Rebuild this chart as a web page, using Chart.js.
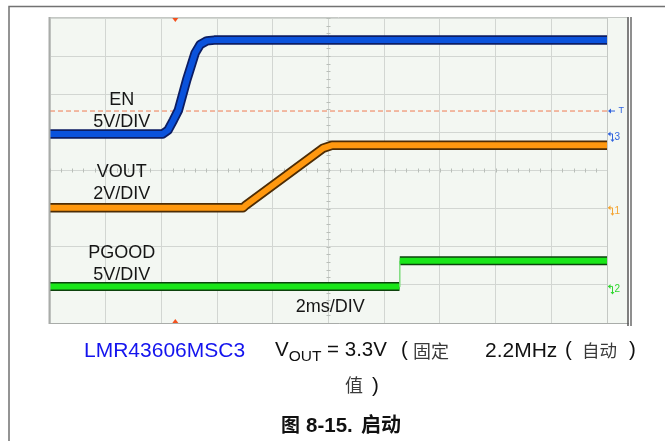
<!DOCTYPE html>
<html>
<head>
<meta charset="utf-8">
<script src="https://cdn.jsdelivr.net/npm/chart.js@4.4.1/dist/chart.umd.min.js"></script>
<style>
  html, body { margin: 0; padding: 0; background: #fff; }
  #wrap { position: relative; width: 665px; height: 441px; overflow: hidden; }
  #scope { position: absolute; left: 0; top: 0; }
  .t { position: absolute; white-space: nowrap; line-height: 1; font-family: "Liberation Sans", Arial, sans-serif; color: #111; }
  .cjk { font-family: "Noto Sans CJK SC", sans-serif; color: #3a3a3a; }
  .b { font-weight: bold; color: #111; }
</style>
</head>
<body>
<div id="wrap">
  <canvas id="scope" width="665" height="441"></canvas>

  <span class="t" style="left:84px;top:339px;font-size:21px;color:#1414ee;">LMR43606MSC3</span>
  <span class="t" style="left:275px;top:339px;font-size:20.5px;">V<span style="font-size:15.5px;position:relative;top:5px;">OUT</span> = 3.3V</span>
  <span class="t" style="left:401px;top:339px;font-size:20.5px;">(</span>
  <span class="t cjk" style="left:413px;top:341px;font-size:18px;">固定</span>
  <span class="t" style="left:485px;top:339px;font-size:21px;">2.2MHz</span>
  <span class="t" style="left:565px;top:339px;font-size:20.5px;">(</span>
  <span class="t cjk" style="left:582px;top:341px;font-size:17.5px;">自动</span>
  <span class="t" style="left:629px;top:339px;font-size:20.5px;">)</span>

  <span class="t cjk" style="left:345px;top:375px;font-size:18px;">值</span>
  <span class="t" style="left:372px;top:375px;font-size:20.5px;">)</span>

  <span class="t cjk b" style="left:281px;top:414px;font-size:19px;">图</span>
  <span class="t b" style="left:306px;top:415px;font-size:20.5px;">8-15.</span>
  <span class="t cjk b" style="left:361px;top:414px;font-size:20px;">启动</span>
</div>

<script>
// Horizontal: 2 ms/div over 10 divisions. Vertical: 8 divisions.
const timeMin = 0;
const timeMax = 20;
const msPerDiv = 2;
const divisions = 8;

// EN (channel 3, 5 V/div)
const enTime  = [0, 4.05, 4.24, 4.43, 4.61, 4.91, 5.21, 5.39, 5.63, 5.90, 20];
const enVolts = [0, 0,    0.5,  1.8,  3.1,  7.1,  10.6, 11.7, 12.2, 12.3, 12.3];

// VOUT (channel 1, 2 V/div)
const voutTime  = [0, 6.93, 7.05, 9.81, 10.12, 20];
const voutVolts = [0, 0,    0.16, 3.13, 3.28,  3.28];

// PGOOD (channel 2, 5 V/div)
const pgoodTime  = [0, 12.55, 12.56, 20];
const pgoodVolts = [0, 0,     3.35,  3.35];

// Trigger: EN rising edge
const trigLevelVolts = 3.0;
const trigTime = 4.5;

// Channel settings: volts per division and ground offset (divisions from bottom)
const chEN    = { num: '3', vPerDiv: 5, offset: 4.96, color: '#0a52dc', edge: '#0c1d63', mark: '#2f63de' };
const chVOUT  = { num: '1', vPerDiv: 2, offset: 3.02, color: '#ff980f', edge: '#4d2c05', mark: '#f4a431' };
const chPGOOD = { num: '2', vPerDiv: 5, offset: 0.96, color: '#19e619', edge: '#0c420c', mark: '#2fd62f' };

function toPoints(times, volts, ch) {
  return times.map((t, i) => ({ x: t, y: ch.offset + volts[i] / ch.vPerDiv }));
}

const enPts = toPoints(enTime, enVolts, chEN);
const voutPts = toPoints(voutTime, voutVolts, chVOUT);
const pgoodPts = toPoints(pgoodTime, pgoodVolts, chPGOOD);
const trigDiv = chEN.offset + trigLevelVolts / chEN.vPerDiv;

const traceBase = { pointRadius: 0, tension: 0, fill: false, borderJoinStyle: 'round' };
// The PGOOD edge is a fast transition drawn as a thin stroke
const isEdge = (ctx) => ctx.p0DataIndex === 1;

const datasets = [
  { data: [{ x: timeMin, y: trigDiv }, { x: timeMax, y: trigDiv }], borderColor: '#ef7a52',
    borderWidth: 1, borderDash: [5, 3], order: 9, ...traceBase },
  { data: pgoodPts, borderColor: chPGOOD.edge, borderWidth: 9, order: 8, ...traceBase,
    segment: { borderWidth: ctx => isEdge(ctx) ? 0.5 : 9, borderColor: ctx => isEdge(ctx) ? 'rgba(0,0,0,0)' : chPGOOD.edge } },
  { data: pgoodPts, borderColor: chPGOOD.color, borderWidth: 6, order: 7, ...traceBase,
    segment: { borderWidth: ctx => isEdge(ctx) ? 1.5 : 6, borderColor: ctx => isEdge(ctx) ? '#7fdc7f' : chPGOOD.color } },
  { data: voutPts, borderColor: chVOUT.edge, borderWidth: 9.5, order: 6, ...traceBase },
  { data: voutPts, borderColor: chVOUT.color, borderWidth: 6, order: 5, ...traceBase },
  { data: enPts, borderColor: chEN.edge, borderWidth: 9.5, order: 4, ...traceBase },
  { data: enPts, borderColor: chEN.color, borderWidth: 6, order: 3, ...traceBase }
];

const FONT = '"Liberation Sans", Arial, sans-serif';
const BG = '#f3f7f2';

const scopeDecor = {
  id: 'scopeDecor',
  beforeDraw(chart) {
    const c = chart.ctx, a = chart.chartArea;
    c.save();
    c.fillStyle = '#fff';
    c.fillRect(0, 0, chart.width, chart.height);
    // page box
    c.strokeStyle = '#727272';
    c.lineWidth = 1.5;
    c.beginPath();
    c.moveTo(9, chart.height + 2);
    c.lineTo(9, 6.5);
    c.lineTo(chart.width + 2, 6.5);
    c.stroke();
    // screen background incl. side marker panel
    c.fillStyle = BG;
    c.fillRect(a.left, a.top, 627 - a.left, a.bottom - a.top);
    c.restore();
  },
  beforeDatasetsDraw(chart) {
    const c = chart.ctx, x = chart.scales.x, y = chart.scales.y;
    c.save();
    c.strokeStyle = '#b9beb9';
    c.lineWidth = 1;
    const yc = y.getPixelForValue(divisions / 2);
    for (let t = timeMin; t <= timeMax + 1e-9; t += msPerDiv / 5) {
      const px = Math.round(x.getPixelForValue(t)) + 0.5;
      c.beginPath(); c.moveTo(px, yc - 2); c.lineTo(px, yc + 2); c.stroke();
    }
    const xc = x.getPixelForValue((timeMin + timeMax) / 2);
    for (let d = 0; d <= divisions + 1e-9; d += 0.2) {
      const py = Math.round(y.getPixelForValue(d)) + 0.5;
      c.beginPath(); c.moveTo(xc - 2, py); c.lineTo(xc + 2, py); c.stroke();
    }
    c.restore();
  },
  afterDatasetsDraw(chart) {
    const c = chart.ctx, a = chart.chartArea, x = chart.scales.x, y = chart.scales.y;
    c.save();
    // screen frame
    c.lineWidth = 1;
    c.strokeStyle = '#c4c8c4';
    c.beginPath(); c.moveTo(a.left, a.top - 0.5); c.lineTo(627, a.top - 0.5); c.stroke();
    c.beginPath(); c.moveTo(a.right + 0.5, a.top); c.lineTo(a.right + 0.5, a.bottom); c.stroke();
    c.strokeStyle = '#a9aca9';
    c.beginPath(); c.moveTo(a.left, a.bottom + 0.5); c.lineTo(629, a.bottom + 0.5); c.stroke();
    c.lineWidth = 2;
    c.beginPath(); c.moveTo(a.left - 0.5, a.top - 1); c.lineTo(a.left - 0.5, a.bottom + 1); c.stroke();
    c.lineWidth = 1.5;
    c.strokeStyle = '#555';
    c.beginPath(); c.moveTo(628, a.top - 1); c.lineTo(628, a.bottom + 3); c.stroke();
    c.strokeStyle = '#6a6a6a';
    c.beginPath(); c.moveTo(631, a.top - 1); c.lineTo(631, a.bottom + 3); c.stroke();

    // trigger position markers
    const tx = x.getPixelForValue(trigTime);
    c.fillStyle = '#f4511e';
    c.beginPath(); c.moveTo(tx - 3, a.top); c.lineTo(tx + 3, a.top); c.lineTo(tx, a.top + 4); c.closePath(); c.fill();
    c.beginPath(); c.moveTo(tx - 3, a.bottom); c.lineTo(tx + 3, a.bottom); c.lineTo(tx, a.bottom - 4); c.closePath(); c.fill();

    // trigger level marker
    const ty = y.getPixelForValue(trigDiv);
    c.strokeStyle = chEN.mark; c.fillStyle = chEN.mark; c.lineWidth = 1;
    c.beginPath(); c.moveTo(609, ty); c.lineTo(615, ty); c.stroke();
    c.beginPath(); c.moveTo(608, ty); c.lineTo(611, ty - 2.5); c.lineTo(611, ty + 2.5); c.closePath(); c.fill();
    c.font = '9px ' + FONT; c.textAlign = 'left'; c.textBaseline = 'middle';
    c.fillText('T', 618.5, ty - 0.5);

    // channel ground markers
    [chEN, chVOUT, chPGOOD].forEach(ch => {
      const gy = y.getPixelForValue(ch.offset);
      c.strokeStyle = ch.mark; c.fillStyle = ch.mark; c.lineWidth = 1;
      c.beginPath(); c.moveTo(608, gy); c.lineTo(612.5, gy); c.lineTo(612.5, gy + 6); c.stroke();
      c.beginPath(); c.moveTo(608, gy); c.lineTo(610.5, gy - 2.5); c.lineTo(610.5, gy + 2.5); c.closePath(); c.fill();
      c.beginPath(); c.moveTo(610.5, gy + 5.5); c.lineTo(614.5, gy + 5.5); c.lineTo(612.5, gy + 8); c.closePath(); c.fill();
      c.font = '10px ' + FONT; c.textBaseline = 'middle';
      c.fillText(ch.num, 614.5, gy + 3);
    });

    // channel and time-base labels
    c.fillStyle = '#161616';
    c.font = '18px ' + FONT; c.textAlign = 'center'; c.textBaseline = 'middle';
    const lbl = (text, t, d) => c.fillText(text, x.getPixelForValue(t), y.getPixelForValue(d));
    lbl('EN', 2.58, 5.85);
    lbl('5V/DIV', 2.58, 5.26);
    lbl('VOUT', 2.58, 3.97);
    lbl('2V/DIV', 2.58, 3.38);
    lbl('PGOOD', 2.58, 1.84);
    lbl('5V/DIV', 2.58, 1.25);
    lbl('2ms/DIV', 10.06, 0.43);
    c.restore();
  }
};

new Chart(document.getElementById('scope'), {
  type: 'line',
  data: { datasets },
  options: {
    responsive: false,
    animation: false,
    events: [],
    devicePixelRatio: 1,
    layout: { padding: { left: 50, top: 18, right: 58, bottom: 118 } },
    plugins: { legend: { display: false }, tooltip: { enabled: false } },
    scales: {
      x: {
        type: 'linear', min: timeMin, max: timeMax,
        ticks: { display: false, stepSize: msPerDiv },
        grid: { color: '#d2d6d2', lineWidth: 1, drawTicks: false },
        border: { display: false }
      },
      y: {
        type: 'linear', min: 0, max: divisions,
        ticks: { display: false, stepSize: 1 },
        grid: { color: '#d2d6d2', lineWidth: 1, drawTicks: false },
        border: { display: false }
      }
    }
  },
  plugins: [scopeDecor]
});
</script>
</body>
</html>
